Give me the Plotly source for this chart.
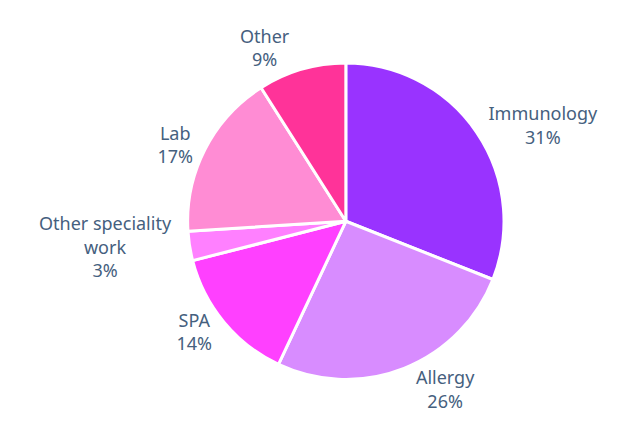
import plotly.graph_objects as go

labels = ["Immunology", "Allergy", "SPA", "Other speciality<br>work", "Lab", "Other"]
values = [31, 26, 14, 3, 17, 9]
colors = ["#9933FF", "#D88CFF", "#FF40FF", "#FF80FF", "#FF8CD4", "#FF3399"]

fig = go.Figure(
    go.Pie(
        labels=labels,
        values=values,
        sort=False,
        direction="clockwise",
        rotation=0,
        marker=dict(colors=colors, line=dict(color="white", width=3)),
        textposition="outside",
        texttemplate="%{label}<br>%{percent:.0%}",
        textfont=dict(family="Noto Sans", size=18, color="#45607E"),
        showlegend=False,
        domain=dict(x=[0.05, 1.0], y=[0.03, 1.0]),
    )
)
fig.update_layout(
    width=622,
    height=421,
    margin=dict(l=0, r=0, t=0, b=0),
    paper_bgcolor="white",
)
fig.write_html("out.html")
